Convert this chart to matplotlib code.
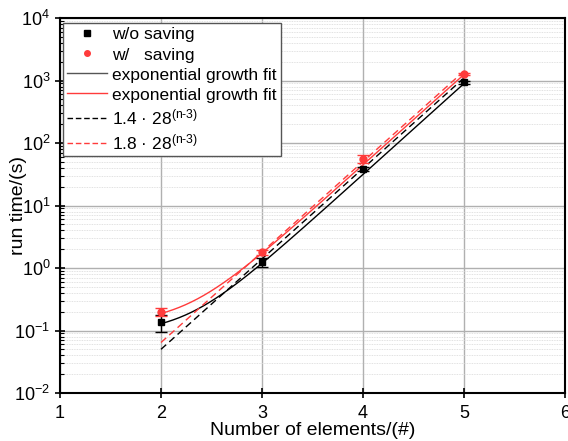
import numpy as np
import matplotlib
matplotlib.use("Agg")
import matplotlib.pyplot as plt
from matplotlib.lines import Line2D
from matplotlib.ticker import LogLocator, NullFormatter

plt.rcParams['font.family'] = ['Liberation Sans', 'DejaVu Sans']
plt.rcParams['mathtext.fontset'] = 'custom'
plt.rcParams['mathtext.rm'] = 'Liberation Sans'
plt.rcParams['mathtext.it'] = 'Liberation Sans'
plt.rcParams['axes.unicode_minus'] = False

# data
n_elements = [2, 3, 4, 5]
t_wo = [0.135, 1.23, 38.5, 930]
t_wo_err = [0.04, 0.2, 3.5, 40]
t_w = [0.2, 1.78, 56, 1290]
t_w_err = [0.03, 0.15, 8, 50]

# fit parameters y = y0 + A*exp(k*(n-3))
fit_wo = dict(y0=0.09, A=1.1, k=3.35)
fit_w = dict(y0=0.13, A=1.6, k=3.33)
ref_wo = (1.4, 28)
ref_w = (1.8, 28)

fig = plt.figure(figsize=(5.68, 4.41), dpi=100)
ax = fig.add_axes([60/568, 48/441, 505/568, 375/441])
ax.set_yscale('log')
ax.set_xlim(1, 6)
ax.set_ylim(1e-2, 1e4)

xx = np.linspace(2, 5, 200)
def expfit(p, x):
    return p['y0'] + p['A'] * np.exp(p['k'] * (x - 3))

red = '#ff3b3b'
ax.plot(xx, expfit(fit_wo, xx), color='black', lw=1.0, zorder=3)
ax.plot(xx, expfit(fit_w, xx), color=red, lw=1.0, zorder=3)
ax.plot(xx, ref_wo[0] * ref_wo[1] ** (xx - 3), color='black', lw=1.0, ls=(0, (5, 3)), zorder=3)
ax.plot(xx, ref_w[0] * ref_w[1] ** (xx - 3), color=red, lw=1.0, ls=(0, (5, 3)), zorder=3)

ax.errorbar(n_elements, t_wo, yerr=t_wo_err, fmt='s', color='black', ms=5,
            capsize=4, elinewidth=1, capthick=1, zorder=4)
ax.errorbar(n_elements, t_w, yerr=t_w_err, fmt='o', color=red, ms=5,
            capsize=4, elinewidth=1, capthick=1, zorder=4)

ax.set_xticks([1, 2, 3, 4, 5, 6])
ax.yaxis.set_major_locator(LogLocator(base=10, numticks=10))
ax.yaxis.set_minor_locator(LogLocator(base=10, subs=np.arange(2, 10), numticks=20))
ax.yaxis.set_minor_formatter(NullFormatter())
ax.tick_params(axis='both', which='major', direction='inout', length=7, width=1.2,
               labelsize=13)
ax.tick_params(axis='x', which='major', pad=5)
ax.tick_params(axis='y', which='minor', direction='in', length=3, width=0.8)
ax.grid(True, which='major', color='#b0b0b0', lw=1.0)
ax.grid(True, which='minor', axis='y', color='#d8d8d8', lw=0.6, ls=(0, (1, 1)))
ax.set_axisbelow(True)
for s in ax.spines.values():
    s.set_linewidth(1.5)

ax.set_xlabel('Number of elements/(#)', fontsize=14)
ax.set_ylabel('run time/(s)', fontsize=14)
ax.xaxis.set_label_coords(0.5, -0.077, transform=ax.transAxes)
ax.yaxis.set_label_coords(-0.066, 0.5, transform=ax.transAxes)

handles = [
    Line2D([], [], marker='s', color='black', ls='none', ms=4),
    Line2D([], [], marker='o', color=red, ls='none', ms=4),
    Line2D([], [], color='#555555', lw=1.0),
    Line2D([], [], color=red, lw=1.0),
    Line2D([], [], color='black', lw=1.0, ls=(0, (4, 2))),
    Line2D([], [], color=red, lw=1.0, ls=(0, (4, 2))),
]
labels = ['w/o saving', 'w/   saving', 'exponential growth fit', 'exponential growth fit',
          '1.4 · 28$^{\\mathrm{(n\u20103)}}$', '1.8 · 28$^{\\mathrm{(n\u20103)}}$']
leg = ax.legend(handles, labels, loc='upper left', bbox_to_anchor=(3/505, 1 - 5/375),
                fontsize=12.5, frameon=True, fancybox=False, framealpha=1,
                edgecolor='#555555', handlelength=2.3, handletextpad=0.3,
                labelspacing=0.28, borderpad=0.25, borderaxespad=0)
leg.get_frame().set_linewidth(1.0)

fig.savefig('out.png', dpi=100)
